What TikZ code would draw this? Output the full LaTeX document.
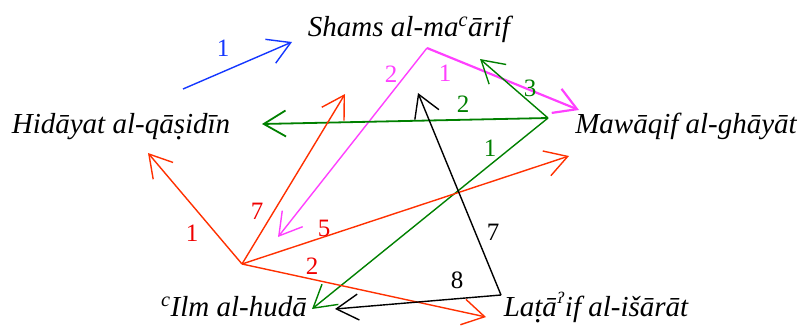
\documentclass[tikz,border=0pt]{standalone}
\usepackage{fontspec}
\setmainfont{Liberation Serif}
\newfontfamily\modfont{DejaVu Serif}
\usetikzlibrary{arrows.meta,positioning}
\definecolor{linkRed}{RGB}{255,48,0}
\definecolor{numRed}{RGB}{240,0,0}
\definecolor{linkGreen}{RGB}{0,128,0}
\definecolor{linkMagenta}{RGB}{255,64,255}
\definecolor{linkBlue}{RGB}{20,55,255}
\newcommand\dotunder[1]{\oalign{#1\crcr\hidewidth\vbox to.2ex{\hbox{.}\vss}\hidewidth}}

\begin{document}
\begin{tikzpicture}[x=1pt, y=-1pt,
  work/.style={inner sep=0pt, anchor=base, font=\fontsize{29}{34}\selectfont\itshape},
  num/.style={inner sep=0pt, font=\fontsize{25}{28}\selectfont},
  link/.style={line width=1.4pt, -{Straight Barb[length=22pt, width=26pt]}}
]
  \useasboundingbox (0,0) rectangle (803,325);

  % titles
  \node[work] (shams)  at (409,36)  {Shams al-ma\textsuperscript{c}\=arif};
  \node[work] (hidaya) at (121,133) {Hid\=ayat al-q\=a\dotunder{s}id\=\i n};
  \node[work] (mawaqf) at (686,133) {Maw\=aqif al-gh\=ay\=at};
  \node[work] (ilm)    at (234,316) {\textsuperscript{c}Ilm al-hud\=a};
  \node[work] (lataif) at (596,316) {La\dotunder{t}\=a{\modfont\fontsize{15}{17}\selectfont\raisebox{0.85em}{ʔ}}if al-i\v{s}\=ar\=at};

  % hubs and arrow ends
  \coordinate (blueS) at (183,89);   \coordinate (blueE) at (292,42);
  \coordinate (magHub) at (427,48);
  \coordinate (magA) at (579,110);   \coordinate (magB) at (278,237);
  \coordinate (grnHub) at (548,118);
  \coordinate (grnA) at (480,59);    \coordinate (grnB) at (262,124);
  \coordinate (grnC) at (312,309);
  \coordinate (redHub) at (242,264);
  \coordinate (redA) at (148,153);   \coordinate (redB) at (345,94);
  \coordinate (redC) at (569,156);   \coordinate (redD) at (486,317);
  \coordinate (blkHub) at (501,295);
  \coordinate (blkA) at (418,93);    \coordinate (blkB) at (335,309);

  % connectors
  \draw[link, linkBlue] (blueS) -- (blueE);
  \draw[link, linkMagenta, line width=2.2pt] (magHub) -- (magA);
  \draw[link, linkMagenta] (magHub) -- (magB);
  \draw[link, linkGreen] (grnHub) -- (grnA);
  \draw[link, linkGreen, line width=1.8pt] (grnHub) -- (grnB);
  \draw[link, linkGreen] (grnHub) -- (grnC);
  \draw[link, linkRed] (redHub) -- (redA);
  \draw[link, linkRed] (redHub) -- (redB);
  \draw[link, linkRed] (redHub) -- (redC);
  \draw[link, linkRed] (redHub) -- (redD);
  \draw[link, black] (blkHub) -- (blkA);
  \draw[link, black] (blkHub) -- (blkB);

  % numbers
  \node[num, linkBlue]    (nb1) at (223,48)  {1};
  \node[num, linkMagenta] (nm2) at (391,74)  {2};
  \node[num, linkMagenta] (nm1) at (445,73)  {1};
  \node[num, linkGreen]   (ng3) at (530,88)  {3};
  \node[num, linkGreen]   (ng2) at (463,104) {2};
  \node[num, linkGreen]   (ng1) at (490,148) {1};
  \node[num, numRed]      (nr1) at (192,233) {1};
  \node[num, numRed]      (nr7) at (257,211) {7};
  \node[num, numRed]      (nr5) at (324,228) {5};
  \node[num, numRed]      (nr2) at (312,266) {2};
  \node[num]              (nk7) at (493,232) {7};
  \node[num]              (nk8) at (457,280) {8};
\end{tikzpicture}
\end{document}
